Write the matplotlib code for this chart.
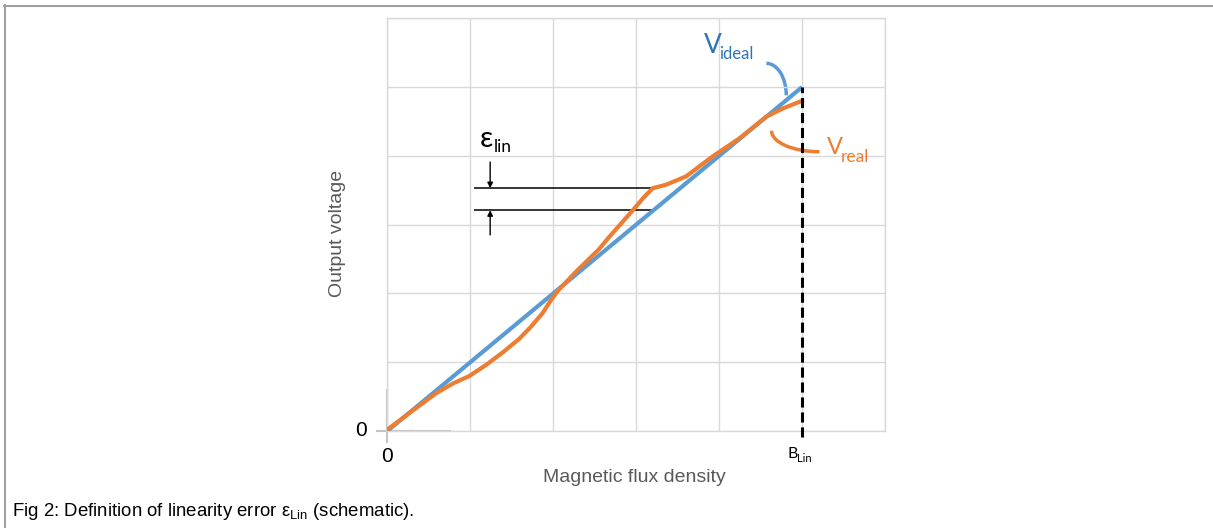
import matplotlib.pyplot as plt
from matplotlib.patches import Arc
from matplotlib.lines import Line2D

# Schematic values (grid units)
b_ideal = [0, 5]
v_ideal = [0, 5]
b_real = [0.0, 0.31, 0.59, 0.79, 0.99, 1.19, 1.40, 1.59, 1.72, 1.87, 1.95, 2.05,
          2.27, 2.55, 2.66, 2.96, 3.08, 3.20, 3.36, 3.60, 3.92, 4.24, 4.57, 4.77, 5.0]
v_real = [0.02, 0.30, 0.55, 0.69, 0.80, 0.96, 1.15, 1.34, 1.50, 1.71, 1.86, 2.03,
          2.31, 2.64, 2.80, 3.21, 3.38, 3.53, 3.58, 3.70, 3.99, 4.25, 4.57, 4.69, 4.80]
b_lin = 5
eps_top = 3.53
eps_bottom = 3.21
eps_from, eps_to = 1.04, 3.21
eps_arrow_x = 1.24

blue = '#5B9BD5'
orange = '#ED7D31'
label_font = ['Lato', 'Noto Sans', 'DejaVu Sans']
plain_font = ['Liberation Sans', 'DejaVu Sans']

W, H = 1213, 528


def px(x, y):
    # pixel position -> figure fraction
    return x / W, 1 - y / H


fig = plt.figure(figsize=(W / 100, H / 100), dpi=100)
ax = fig.add_axes([387.3 / W, 1 - 431 / H, (885 - 387.3) / W, (431 - 18.3) / H])
ax.set_xlim(0, 6)
ax.set_ylim(0, 6)
ax.set_xticks(range(7))
ax.set_yticks(range(7))
ax.tick_params(length=0, labelbottom=False, labelleft=False)
ax.grid(color='#d9d9d9', lw=1)
for s in ax.spines.values():
    s.set_color('#d9d9d9')
    s.set_linewidth(1)

# little darker stubs at the origin
ax.plot([-0.12, 0.75], [0, 0], color='#c4c4c4', lw=1.5, clip_on=False)
ax.plot([0, 0], [-0.155, 0.6], color='#c4c4c4', lw=1.5, clip_on=False)

# curves
ax.plot(b_ideal, v_ideal, color=blue, lw=3, solid_capstyle='butt', zorder=3)
ax.plot(b_real, v_real, color=orange, lw=3, solid_joinstyle='round', zorder=4)
ax.plot([b_lin, b_lin], [-0.09, 5], color='black', lw=2.2, ls=(0, (3.3, 1.6)),
        clip_on=False, zorder=5)

# linearity error marks
ax.hlines([eps_top, eps_bottom], eps_from, eps_to, color='black', lw=1.1, zorder=2)
arrow = dict(arrowstyle='-|>', color='black', lw=1, mutation_scale=8, shrinkA=0, shrinkB=0)
ax.annotate('', xy=(eps_arrow_x, eps_top), xytext=(eps_arrow_x, 3.91), arrowprops=arrow)
ax.annotate('', xy=(eps_arrow_x, eps_bottom), xytext=(eps_arrow_x, 2.85), arrowprops=arrow)
ax.text(1.11, 4.13, 'ε', fontsize=21, family=label_font, ha='left', va='baseline')
ax.text(1.28, 4.06, 'lin', fontsize=12.5, family=label_font, ha='left', va='baseline')

# curve labels with their leader arcs
ax.add_patch(Arc((4.57, 4.88), 0.48, 0.93, theta1=0, theta2=90, color=blue, lw=2.5))
ax.add_patch(Arc((5.21, 4.365), 1.156, 0.61, theta1=180, theta2=270, color=orange, lw=2.5))
ax.text(3.82, 5.49, 'V', fontsize=19, family=label_font, color='#2E75B6',
        ha='left', va='baseline', clip_on=False)
ax.text(4.00, 5.41, 'ideal', fontsize=12, family=label_font, color='#2E75B6',
        ha='left', va='baseline', clip_on=False)
ax.text(5.30, 4.02, 'V', fontsize=17, family=label_font, color=orange,
        ha='left', va='baseline', clip_on=False)
ax.text(5.47, 3.91, 'real', fontsize=12.5, family=label_font, color=orange,
        ha='left', va='baseline', clip_on=False)

# axis texts
fig.text(*px(361, 431), '0', fontsize=15, family=plain_font, ha='center', va='center')
fig.text(*px(387.5, 456), '0', fontsize=15, family=plain_font, ha='center', va='center')
fig.text(*px(787.7, 457.7), 'B', fontsize=11.5, family=label_font, va='baseline')
fig.text(*px(796.7, 461.7), 'Lin', fontsize=8, family=label_font, va='baseline')
fig.text(*px(338, 233), 'Output voltage', fontsize=14, family=plain_font,
         color='#595959', rotation=90, ha='center', va='center')
fig.text(*px(634, 478), 'Magnetic flux density', fontsize=14, family=plain_font,
         color='#595959', ha='center', va='center')

# caption
fig.text(*px(12, 516), r'Fig 2: Definition of linearity error $\mathregular{ε_{Lin}}$ (schematic).',
         fontsize=13.4, family=plain_font, ha='left', va='baseline')

# page frame (top and left edge)
fig.add_artist(Line2D([4 / W, 1], [1 - 5.5 / H, 1 - 5.5 / H], color='#a0a0a0', lw=1.5))
fig.add_artist(Line2D([5 / W, 5 / W], [1 - 5 / H, 0], color='#a0a0a0', lw=1.5))

fig.savefig('out.png', dpi=100)
